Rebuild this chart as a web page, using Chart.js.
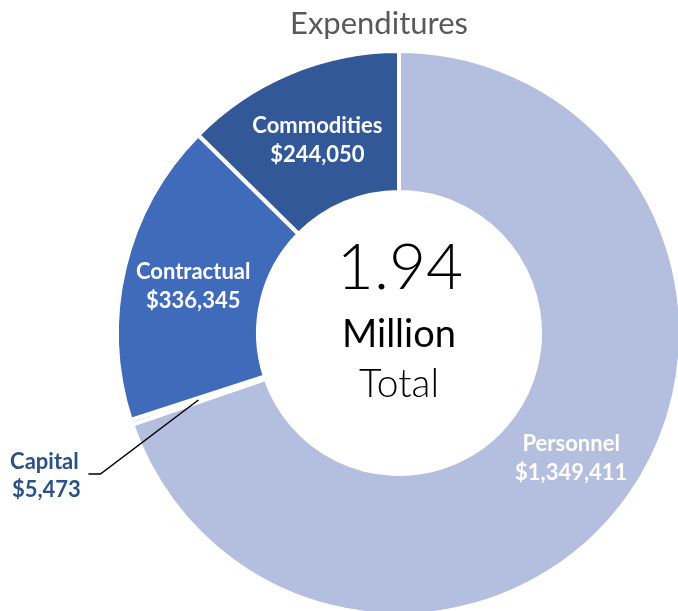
<!DOCTYPE html>
<html>
<head>
<meta charset="utf-8">
<script src="https://cdn.jsdelivr.net/npm/chart.js@4/dist/chart.umd.min.js"></script>
<style>
  html, body { margin: 0; padding: 0; background: #fff; overflow: hidden; }
  #wrap { position: relative; width: 683px; height: 617px; }
</style>
</head>
<body>
<div id="wrap"><canvas id="chart"></canvas></div>
<script>
// Expenditure categories, clockwise from 12 o'clock
const categories = ['Personnel', 'Capital', 'Contractual', 'Commodities'];
const amounts = [1349411, 5473, 336345, 244050];
const sliceColors = ['#B4BFE0', '#C9D2EC', '#406ABA', '#325898'];

const titleText = 'Expenditures';
const totalText = '1.94';
const unitText = 'Million';
const totalCaption = 'Total';

const LABEL_FONT = 'Lato, "Open Sans", sans-serif';

function money(v) {
  return '$' + v.toLocaleString('en-US');
}

const labelPlugin = {
  id: 'sliceLabels',
  afterDatasetsDraw(chart) {
    const ctx = chart.ctx;
    const meta = chart.getDatasetMeta(0);
    const cx = meta.data[0].x;
    const cy = meta.data[0].y;
    ctx.save();

    // Title
    ctx.fillStyle = '#595959';
    ctx.font = '400 31px ' + LABEL_FONT;
    ctx.textAlign = 'center';
    ctx.textBaseline = 'alphabetic';
    ctx.fillText(titleText, cx - 20, 34);

    // Centre total
    ctx.fillStyle = '#000';
    ctx.font = '300 64px ' + LABEL_FONT;
    ctx.fillText(totalText, cx + 1, 289);
    ctx.font = '400 38px ' + LABEL_FONT;
    ctx.fillText(unitText, cx, 347);
    ctx.font = '300 39px ' + LABEL_FONT;
    ctx.fillText(totalCaption, cx, 397);

    // Slice labels
    meta.data.forEach((arc, i) => {
      const p = arc.tooltipPosition();
      const name = categories[i];
      const val = money(amounts[i]);
      ctx.font = 'bold 22px ' + LABEL_FONT;
      if (name === 'Capital') {
        // small slice: label outside with a leader line
        const ex = p.x - 98, ey = p.y + 74;
        ctx.strokeStyle = '#000';
        ctx.lineWidth = 1.5;
        ctx.beginPath();
        ctx.moveTo(p.x, p.y);
        ctx.lineTo(ex, ey);
        ctx.lineTo(ex - 12, ey);
        ctx.stroke();
        ctx.fillStyle = '#2B5287';
        ctx.fillText(name, ex - 56, ey - 5);
        ctx.fillText(val, ex - 54, ey + 23);
      } else {
        ctx.fillStyle = '#fff';
        ctx.fillText(name, p.x, p.y - 5);
        ctx.fillText(val, p.x, p.y + 24);
      }
    });
    ctx.restore();
  }
};

new Chart(document.getElementById('chart'), {
  type: 'doughnut',
  data: {
    labels: categories,
    datasets: [{
      data: amounts,
      backgroundColor: sliceColors,
      borderColor: '#ffffff',
      borderWidth: 4,
      hoverOffset: 0
    }]
  },
  options: {
    responsive: true,
    maintainAspectRatio: false,
    animation: false,
    cutout: '50%',
    rotation: 0,
    layout: { padding: { left: 115, top: 49, right: 0, bottom: 0 } },
    plugins: {
      legend: { display: false },
      title: { display: false },
      tooltip: { enabled: false }
    }
  },
  plugins: [labelPlugin]
});
</script>
</body>
</html>
